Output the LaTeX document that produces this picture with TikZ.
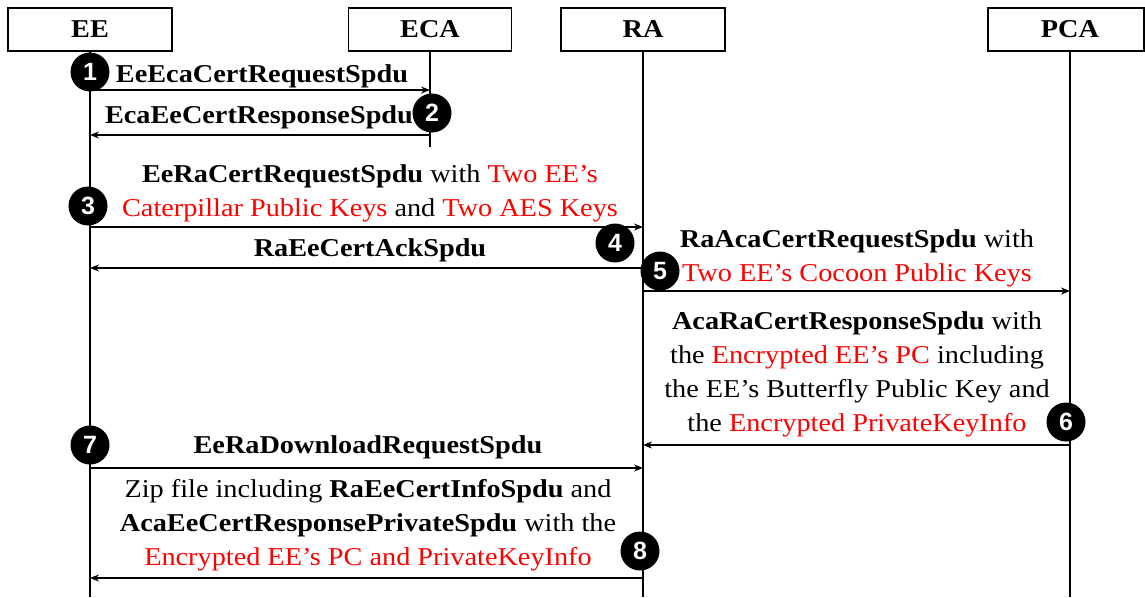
\documentclass[tikz,border=0pt]{standalone}
\usepackage{fontspec}
\setmainfont{Liberation Serif}[FakeStretch=1.1]
\newfontfamily\badgefont{Liberation Sans}
\usetikzlibrary{arrows.meta}
\begin{document}
\begin{tikzpicture}[x=1pt,y=1pt,
  actor/.style={draw,line width=1.1pt,minimum width=164pt,minimum height=43pt,inner sep=0pt,font=\fontsize{25.7}{30}\selectfont\bfseries},
  life/.style={line width=1.6pt},
  msg/.style={line width=1.4pt,-{Stealth[length=9pt,width=7pt]}},
  lbl/.style={inner sep=0pt,align=center,anchor=base,font=\fontsize{25.7}{34}\selectfont},
  badge/.style={circle,fill=black,text=white,inner sep=0pt,minimum size=39pt,font=\badgefont\fontsize{25}{25}\selectfont\bfseries},
]
\useasboundingbox[fill=white] (0,0) rectangle (1145,-597);
% actors
\node[actor] (ee) at (90,-29.5) {EE};
\node[actor,minimum width=163pt] (eca) at (430,-29.5) {ECA};
\node[actor] (ra) at (643,-29.5) {RA};
\node[actor,minimum width=156pt] (pca) at (1066,-29.5) {\hspace*{8pt}PCA};
% lifeline ends
\coordinate (eeb) at (90,-597);
\coordinate (ecab) at (430,-147);
\coordinate (rab) at (643,-597);
\coordinate (pcab) at (1070,-597);
\draw[life] (ee.south) -- (eeb);
\draw[life] (eca.south) -- (ecab);
\draw[life] (ra.south) -- (rab);
\draw[life] (1070,-51) coordinate (pcat) -- (pcab);
% message anchor points
\coordinate (e1) at (90,-90);   \coordinate (c1) at (430,-90);
\coordinate (e2) at (90,-135);  \coordinate (c2) at (430,-135);
\coordinate (e3) at (90,-227);  \coordinate (r3) at (643,-227);
\coordinate (e4) at (90,-268);  \coordinate (r4) at (643,-268);
\coordinate (r5) at (643,-291); \coordinate (p5) at (1070,-291);
\coordinate (r6) at (643,-445); \coordinate (p6) at (1070,-445);
\coordinate (e7) at (90,-468);  \coordinate (r7) at (643,-468);
\coordinate (e8) at (90,-578);  \coordinate (r8) at (643,-578);
% messages
\draw[msg] (e1) -- (c1);
\draw[msg] (c2) -- (e2);
\draw[msg] (e3) -- (r3);
\draw[msg] (r4) -- (e4);
\draw[msg] (r5) -- (p5);
\draw[msg] (p6) -- (r6);
\draw[msg] (e7) -- (r7);
\draw[msg] (r8) -- (e8);
% labels (base = baseline of last line)
\node[lbl] (t1) at (262,-82) {\textbf{EeEcaCertRequestSpdu}};
\node[lbl] (t2) at (259,-123) {\textbf{EcaEeCertResponseSpdu}};
\node[lbl] (t3) at (370,-216) {\textbf{EeRaCertRequestSpdu} with \textcolor{red}{Two EE's}\\
  \textcolor{red}{Caterpillar Public Keys} and \textcolor{red}{Two AES Keys}};
\node[lbl] (t4) at (370,-256) {\textbf{RaEeCertAckSpdu}};
\node[lbl] (t5) at (857,-281) {\textbf{RaAcaCertRequestSpdu} with\\
  \textcolor{red}{Two EE's Cocoon Public Keys}};
\node[lbl] (t6) at (857,-431) {\textbf{AcaRaCertResponseSpdu} with\\
  the \textcolor{red}{Encrypted EE's PC} including\\
  the EE's Butterfly Public Key and\\
  the \textcolor{red}{Encrypted PrivateKeyInfo}};
\node[lbl] (t7) at (368,-453) {\textbf{EeRaDownloadRequestSpdu}};
\node[lbl] (t8) at (368,-565) {Zip file including \textbf{RaEeCertInfoSpdu} and\\
  \textbf{AcaEeCertResponsePrivateSpdu} with the\\
  \textcolor{red}{Encrypted EE's PC and PrivateKeyInfo}};
% badges
\node[badge] (b1) at (90,-72) {1};
\node[badge] (b2) at (432,-113) {2};
\node[badge] (b3) at (88,-206) {3};
\node[badge] (b4) at (615,-243) {4};
\node[badge] (b5) at (660,-271) {5};
\node[badge] (b6) at (1066,-422) {6};
\node[badge] (b7) at (90,-445) {7};
\node[badge] (b8) at (640,-551) {8};
\end{tikzpicture}
\end{document}
